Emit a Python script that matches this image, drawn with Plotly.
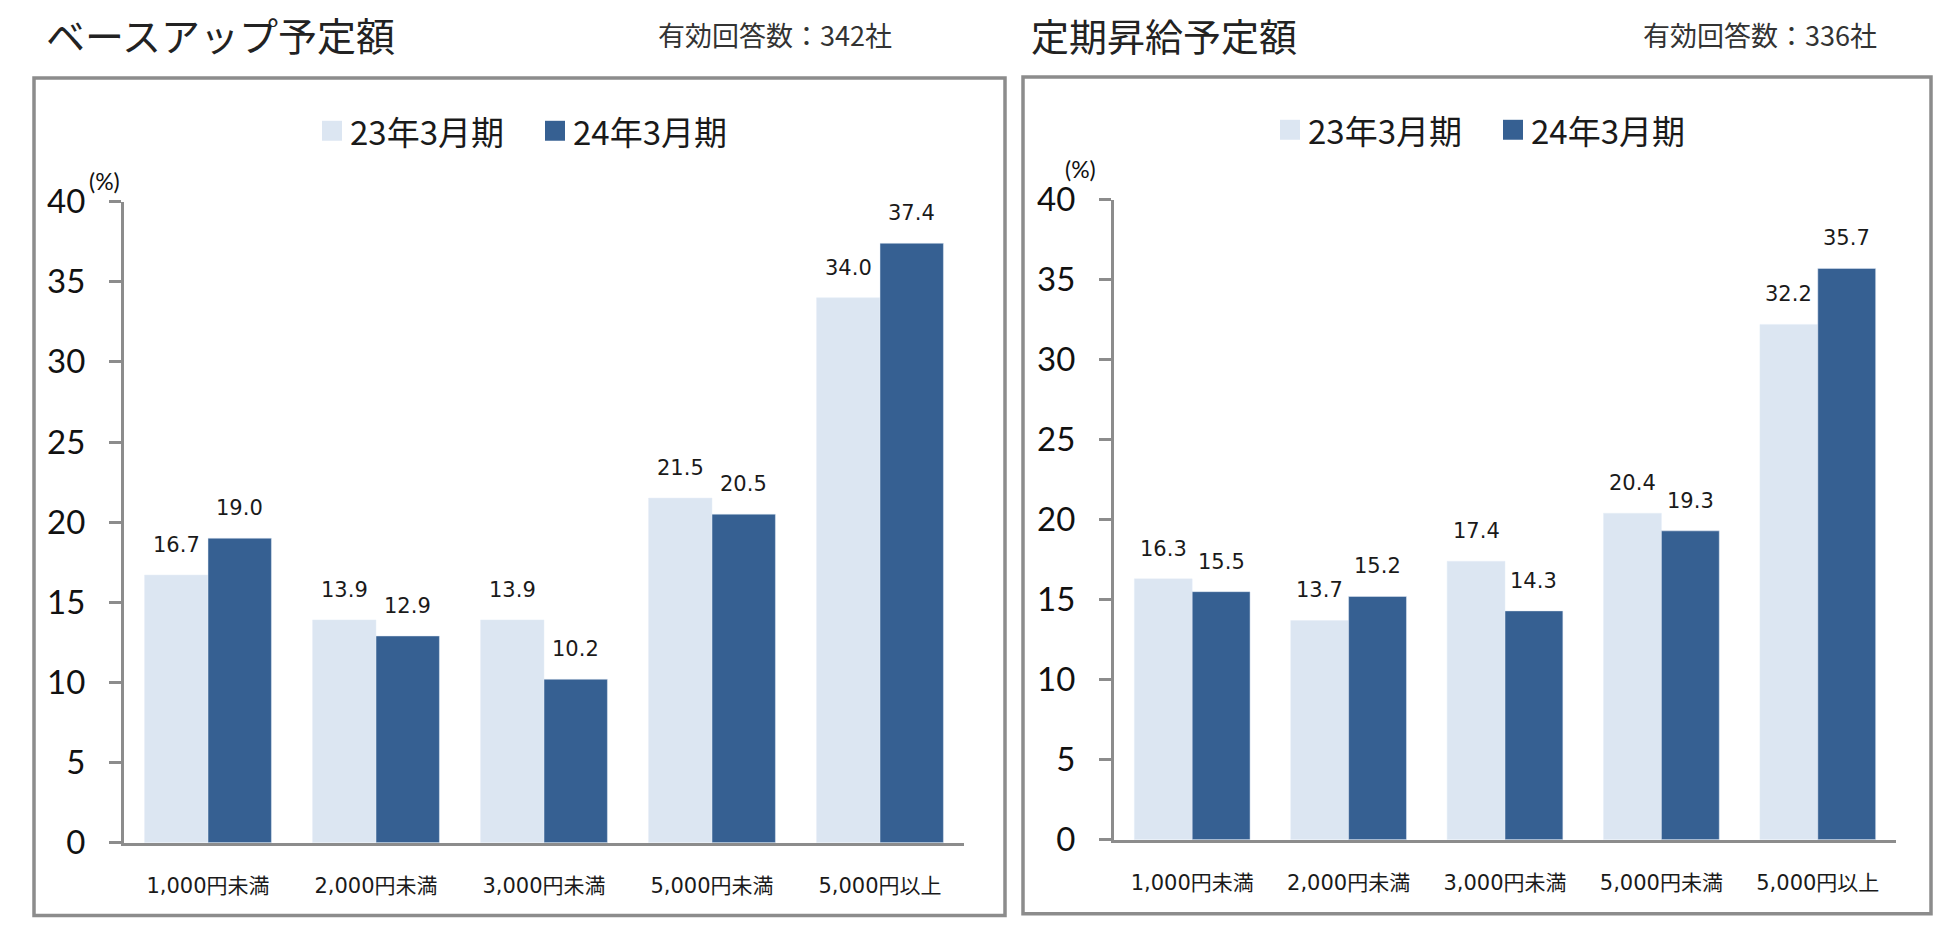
import plotly.graph_objects as go

W, H = 1950, 936

categories = ["1,000円未満", "2,000円未満", "3,000円未満", "5,000円未満", "5,000円以上"]
series_names = ["23年3月期", "24年3月期"]
base_23 = [16.7, 13.9, 13.9, 21.5, 34.0]
base_24 = [19.0, 12.9, 10.2, 20.5, 37.4]
teiki_23 = [16.3, 13.7, 17.4, 20.4, 32.2]
teiki_24 = [15.5, 15.2, 14.3, 19.3, 35.7]
y_ticks = [0, 5, 10, 15, 20, 25, 30, 35, 40]
titles = ["ベースアップ予定額", "定期昇給予定額"]
counts = ["有効回答数：342社", "有効回答数：336社"]

LIGHT = "#DCE6F2"
DARK = "#366092"
GRAY = "#8c8c8c"
CJK = "Noto Sans CJK JP"
LBL = "DejaVu Sans, Noto Sans CJK JP"

# vertical layout correction (centre, factor)
VC, VK = 523.0, 0.96


def px(x):
    return x / W


def py(y):
    yy = VC + (y - VC) / VK
    return 1 - yy / H


fig = go.Figure()

panels = [
    dict(xa="x", ya="y", d23=base_23, d24=base_24, gap=0.245),
    dict(xa="x2", ya="y2", d23=teiki_23, d24=teiki_24, gap=0.26),
]

idx = list(range(len(categories)))
for p in panels:
    bw = (1 - p["gap"]) / 2
    fig.add_trace(go.Bar(x=idx, y=p["d23"], name=series_names[0], marker_color=LIGHT,
                         xaxis=p["xa"], yaxis=p["ya"], showlegend=False,
                         width=bw, offset=-bw, hoverinfo="skip"))
    fig.add_trace(go.Bar(x=idx, y=p["d24"], name=series_names[1], marker_color=DARK,
                         xaxis=p["xa"], yaxis=p["ya"], showlegend=False,
                         width=bw, offset=0, hoverinfo="skip"))

annotations = []
for p in panels:
    half = (1 - p["gap"]) / 4
    for vals, sign in ((p["d23"], -1), (p["d24"], 1)):
        for i, v in enumerate(vals):
            annotations.append(dict(x=i + sign * half, y=v, xref=p["xa"], yref=p["ya"],
                                    text=f"{v:.1f}", showarrow=False, yshift=30,
                                    yanchor="middle", xanchor="center",
                                    font=dict(family="DejaVu Sans", size=21, color="#1a1a1a")))

annotations += [
    dict(x=px(44), y=py(34), xref="paper", yref="paper", text=titles[0], showarrow=False,
         xanchor="left", yanchor="middle", font=dict(family=CJK, size=39, color="#222")),
    dict(x=px(1029), y=py(34), xref="paper", yref="paper", text=titles[1], showarrow=False,
         xanchor="left", yanchor="middle", font=dict(family=CJK, size=38, color="#222")),
    dict(x=px(775), y=py(34), xref="paper", yref="paper", text=counts[0], showarrow=False,
         xanchor="center", yanchor="middle", font=dict(family=CJK, size=27, color="#333")),
    dict(x=px(1760), y=py(34), xref="paper", yref="paper", text=counts[1], showarrow=False,
         xanchor="center", yanchor="middle", font=dict(family=CJK, size=27, color="#333")),
    dict(x=px(104), y=py(181), xref="paper", yref="paper", text="(%)", showarrow=False,
         xanchor="center", yanchor="middle", font=dict(family="Lato", size=23, color="#111")),
    dict(x=px(1080), y=py(169), xref="paper", yref="paper", text="(%)", showarrow=False,
         xanchor="center", yanchor="middle", font=dict(family="Lato", size=23, color="#111")),
]

shapes = [
    dict(type="rect", xref="paper", yref="paper", x0=px(34), x1=px(1005),
         y0=0.0018, y1=py(78),
         line=dict(color=GRAY, width=3.5), layer="below"),
    dict(type="rect", xref="paper", yref="paper", x0=px(1023), x1=px(1931),
         y0=0.0035, y1=py(77),
         line=dict(color=GRAY, width=3.5), layer="below"),
]

legend_pos = [(322, 131), (1280, 130)]
for lx, ly in legend_pos:
    for k, (nm, col) in enumerate(zip(series_names, [LIGHT, DARK])):
        sx = lx + k * 223
        shapes.append(dict(type="rect", xref="paper", yref="paper", x0=px(sx), x1=px(sx + 20),
                           y0=py(ly + 10), y1=py(ly - 10), fillcolor=col, line=dict(width=0)))
        annotations.append(dict(x=px(sx + 26), y=py(ly), xref="paper", yref="paper", text=nm,
                                showarrow=False, xanchor="left", yanchor="middle",
                                font=dict(family=CJK, size=33, color="#1a1a1a")))

xcommon = dict(range=[-0.5, 4.5], tickmode="array", tickvals=idx, ticktext=categories,
               showline=True, linecolor=GRAY, linewidth=3, ticks="", showgrid=False,
               zeroline=False, tickfont=dict(family=LBL, size=21, color="#1a1a1a"),
               ticklabelstandoff=22, fixedrange=True)
ycommon = dict(range=[0, 40], tickmode="array", tickvals=y_ticks, showline=True,
               linecolor=GRAY, linewidth=3, ticks="outside", ticklen=12, tickwidth=3,
               tickcolor=GRAY, showgrid=False, zeroline=False,
               tickfont=dict(family="Lato", size=33, color="#111"), ticklabelstandoff=17,
               fixedrange=True)

fig.update_layout(
    width=W, height=H,
    margin=dict(l=0, r=0, t=0, b=0),
    paper_bgcolor="white", plot_bgcolor="white",
    barmode="overlay",
    xaxis=dict(domain=[px(124), px(964)], anchor="y", **xcommon),
    yaxis=dict(domain=[py(845), py(202)], anchor="x", **ycommon),
    xaxis2=dict(domain=[px(1114), px(1896)], anchor="y2", **xcommon),
    yaxis2=dict(domain=[py(842), py(200)], anchor="x2", **ycommon),
    annotations=annotations,
    shapes=shapes,
)

fig.write_html(
    "out.html",
    config={"displayModeBar": False},
    post_script="document.body.style.margin='0';document.documentElement.style.overflow='hidden';",
)
